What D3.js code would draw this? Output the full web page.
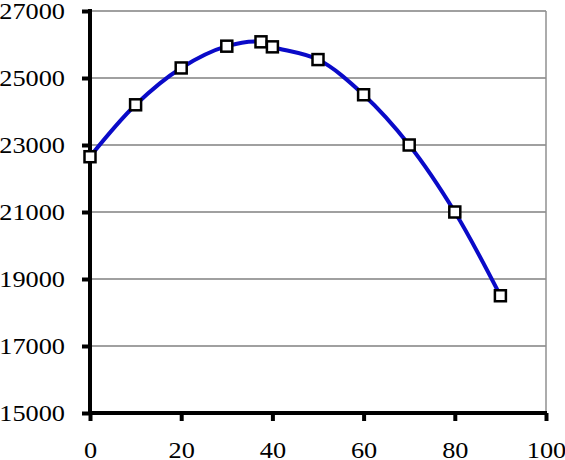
<!DOCTYPE html>
<html>
<head>
<meta charset="utf-8">
<script src="https://cdn.jsdelivr.net/npm/d3@7"></script>
<style>
html,body{margin:0;padding:0;background:#fff;}
svg{display:block;}
text{font-family:"Liberation Serif","Times New Roman",serif;fill:#000;}
</style>
</head>
<body>
<svg id="chart" width="565" height="460"></svg>
<script>
const xValues = [0, 10, 20, 30, 37.5, 40, 50, 60, 70, 80, 90];
const yValues = [22650, 24200, 25300, 25950, 26080, 25930, 25550, 24500, 23000, 21000, 18500];
const xTicks = [0, 20, 40, 60, 80, 100];
const yTicks = [15000, 17000, 19000, 21000, 23000, 25000, 27000];

const W = 565, H = 460;
const margin = {left: 90, right: 19, top: 11, bottom: 47};
const svg = d3.select("#chart");

const x = d3.scaleLinear().domain([0, 100]).range([margin.left, W - margin.right]);
const y = d3.scaleLinear().domain([15000, 27000]).range([H - margin.bottom, margin.top]);

// gridlines
svg.append("g").selectAll("line").data(yTicks.filter(d => d > 15000)).join("line")
  .attr("x1", x(0)).attr("x2", x(100))
  .attr("y1", d => y(d)).attr("y2", d => y(d))
  .attr("stroke", "#808080").attr("stroke-width", 1.5);

// right border
svg.append("line")
  .attr("x1", x(100)).attr("x2", x(100))
  .attr("y1", y(27000)).attr("y2", y(15000))
  .attr("stroke", "#909090").attr("stroke-width", 1.5);

// y axis
const yAxis = d3.axisLeft(y).tickValues(yTicks).tickSize(8).tickFormat(d => d);
const gy = svg.append("g").attr("transform", `translate(${x(0)},0)`).call(yAxis);
gy.select(".domain").attr("stroke", "#000").attr("stroke-width", 4)
  .attr("d", `M0,${y(27000) - 2}V${y(15000) + 2}`);
gy.selectAll(".tick line").attr("stroke", "#000").attr("stroke-width", 4);
gy.selectAll(".tick text").remove();
gy.selectAll(".tick").append("text")
  .attr("transform", "translate(-25,7) scale(1.17,1)")
  .attr("text-anchor", "end")
  .attr("font-size", 22.5)
  .text(d => d);

// x axis
const xAxis = d3.axisBottom(x).tickValues(xTicks).tickSize(8).tickFormat(d => d);
const gx = svg.append("g").attr("transform", `translate(0,${y(15000)})`).call(xAxis);
gx.select(".domain").attr("stroke", "#000").attr("stroke-width", 4)
  .attr("d", `M${x(0) - 2},0H${x(100) + 1}`);
gx.selectAll(".tick line").attr("stroke", "#000").attr("stroke-width", 4);
gx.selectAll(".tick text").remove();
gx.selectAll(".tick").append("text")
  .attr("transform", "translate(0,45) scale(1.17,1)")
  .attr("text-anchor", "middle")
  .attr("font-size", 22.5)
  .text(d => d);

// line
const pts = xValues.map((v, i) => [v, yValues[i]]);
const line = d3.line().x(d => x(d[0])).y(d => y(d[1])).curve(d3.curveCatmullRom.alpha(0.5));
svg.append("path").datum(pts)
  .attr("d", line)
  .attr("fill", "none")
  .attr("stroke", "#0a0ac8")
  .attr("stroke-width", 4)
  .attr("stroke-linejoin", "round");

// markers
const s = 11;
svg.append("g").selectAll("rect").data(pts).join("rect")
  .attr("x", d => x(d[0]) - s / 2)
  .attr("y", d => y(d[1]) - s / 2)
  .attr("width", s).attr("height", s)
  .attr("fill", "#fff")
  .attr("stroke", "#000")
  .attr("stroke-width", 2.5);
</script>
</body>
</html>
